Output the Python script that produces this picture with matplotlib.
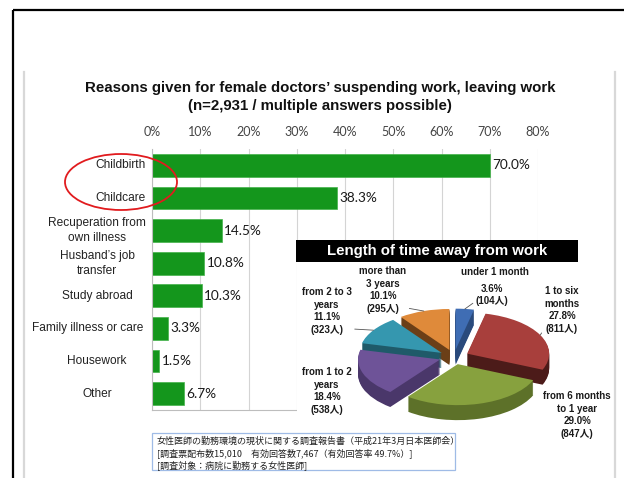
import matplotlib
matplotlib.use('Agg')
import matplotlib.pyplot as plt
import matplotlib.transforms as mtransforms
from matplotlib.patches import Ellipse, Rectangle
from matplotlib.lines import Line2D
import numpy as np

# ---------------- data ----------------
categories = ['Childbirth', 'Childcare', 'Recuperation from\nown illness',
              'Husband\u2019s job\ntransfer', 'Study abroad',
              'Family illness or care', 'Housework', 'Other']
shares = [70.0, 38.3, 14.5, 10.8, 10.3, 3.3, 1.5, 6.7]
xticks = [0, 10, 20, 30, 40, 50, 60, 70, 80]

pie_labels = ['under 1 month', '1 to six\nmonths', 'from 6 months\nto 1 year',
              'from 1 to 2\nyears', 'from 2 to 3\nyears', 'more than\n3 years']
pie_pct = [3.6, 27.8, 29.0, 18.4, 11.1, 10.1]
pie_counts = [104, 811, 847, 538, 323, 295]

title1 = 'Reasons given for female doctors\u2019 suspending work, leaving work'
title2 = '(n=2,931 / multiple answers possible)'
pie_title = 'Length of time away from work'
notes = ['女性医師の勤務環境の現状に関する調査報告書（平成21年3月日本医師会）',
         '[調査票配布数15,010　有効回答数7,467（有効回答率 49.7%）]',
         '[調査対象：病院に勤務する女性医師]']

# ---------------- figure ----------------
W, H = 624, 478
fig = plt.figure(figsize=(W / 100, H / 100), dpi=100)
fig.patch.set_facecolor('white')

def fx(x):
    return x / W

def fy(y):
    return 1 - y / H

SANS = ['Liberation Sans', 'DejaVu Sans']
NUM = ['Lato', 'DejaVu Sans']
CJK = ['Liberation Sans', 'Noto Sans CJK JP', 'DejaVu Sans']

# frame decorations
fig.add_artist(Line2D([fx(13), 1], [fy(10), fy(10)], transform=fig.transFigure,
                      color='black', lw=1.6, solid_capstyle='butt'))
fig.add_artist(Line2D([fx(13), fx(13)], [fy(10), 0], transform=fig.transFigure,
                      color='black', lw=1.6, solid_capstyle='butt'))
for gx in (24, 615):
    fig.add_artist(Line2D([fx(gx), fx(gx)], [fy(72), 0], transform=fig.transFigure,
                          color='#d8d8d8', lw=1.6))

# titles
fig.text(fx(320), fy(88), title1, ha='center', va='center', fontsize=10.8,
         fontweight='bold', family=SANS, color='#111')
fig.text(fx(320), fy(106), title2, ha='center', va='center', fontsize=10.8,
         fontweight='bold', family=SANS, color='#111')

# ---------------- bar chart ----------------
ax = fig.add_axes([fx(152), fy(410), (538 - 152) / W, (410 - 149) / H])
yy = np.arange(len(categories))
ax.barh(yy, shares, height=0.7, color='#14961c', edgecolor='#44b24a', lw=0.5, zorder=2)
ax.set_xlim(0, 80)
ax.set_ylim(len(categories) - 0.5, -0.5)
ax.xaxis.tick_top()
ax.set_xticks(xticks)
ax.set_xticklabels([f'{t}%' for t in xticks], fontsize=9, family=NUM, color='#444')
ax.tick_params(axis='x', length=0, pad=8)
ax.set_yticks([])
ax.grid(axis='x', color='#d4d4d4', lw=0.8, zorder=0)
ax.set_axisbelow(True)
for s in ('top', 'right'):
    ax.spines[s].set_visible(False)
for s in ('left', 'bottom'):
    ax.spines[s].set_color('#bdbdbd')
    ax.spines[s].set_linewidth(0.8)

for i, v in enumerate(shares):
    ax.text(v + 0.5, i, f'{v:.1f}%', va='center', ha='left', fontsize=9.8,
            family=NUM, color='#1a1a1a', zorder=3)

blend = mtransforms.blended_transform_factory(fig.transFigure, ax.transData)
for i, lab in enumerate(categories):
    if i < 2:
        xp, ha = 146, 'right'
    elif lab.startswith('Family'):
        xp, ha = 88, 'center'
    else:
        xp, ha = 97, 'center'
    ax.text(fx(xp), i, lab, transform=blend, ha=ha, va='center', fontsize=8.6,
            family=SANS, color='#222', multialignment='center', linespacing=1.3)

# red highlight ellipse
fig.add_artist(Ellipse((fx(121), fy(182)), 112 / W, 56 / H, transform=fig.transFigure,
                       fill=False, edgecolor='#e11b1e', lw=1.3))

# ---------------- 3D-looking pie ----------------
PL, PR, PT, PB = 297, 605, 240, 445
cx, cy, rx, ry, depth = 454, 357, 82, 41, 15
axp = fig.add_axes([fx(PL), fy(PB), (PR - PL) / W, (PB - PT) / H])
top_colors = ['#3f6db4', '#a83f3c', '#87a13e', '#6e5398', '#3597af', '#df8a3a']
side_colors = ['#2a4a7c', '#4c1b19', '#5d7129', '#4a376a', '#1f5a69', '#6b3f17']
explode = [0.18] * len(pie_pct)

layers = []
for k in range(depth, 0, -1):
    w, _ = axp.pie(pie_pct, explode=explode, startangle=90, counterclock=False,
                   colors=side_colors, center=(0, -k / ry), radius=1,
                   wedgeprops=dict(lw=0))
    layers.append(w)
tops, _ = axp.pie(pie_pct, explode=explode, startangle=90, counterclock=False,
                  colors=top_colors, center=(0, 0), radius=1,
                  wedgeprops=dict(lw=0))

mids = [np.deg2rad((w.theta1 + w.theta2) / 2) for w in tops]
order = np.argsort([-np.sin(m) for m in mids])  # back first
base = {}
for rank, idx in enumerate(order):
    base[idx] = 2 + rank
for w_list in layers:
    for i, w in enumerate(w_list):
        w.set_zorder(base[i])
for i, w in enumerate(tops):
    w.set_zorder(base[i] + 0.5)

axp.set_aspect('auto')
axp.set_frame_on(True)
axp.set_xlim(-(cx - PL) / rx, (PR - cx) / rx)
axp.set_ylim(-(PB - cy) / ry, (cy - PT) / ry)
axp.set_xticks([])
axp.set_yticks([])
for s in axp.spines.values():
    s.set_visible(False)
axp.set_facecolor('white')

def arc_point(i):
    w = tops[i]
    m = mids[i]
    return (w.center[0] + np.cos(m), w.center[1] + np.sin(m))

# pie title band
fig.add_artist(Rectangle((fx(296), fy(262)), (578 - 296) / W, 22 / H,
                         transform=fig.transFigure, facecolor='black',
                         edgecolor='none', zorder=5))
fig.text(fx(437), fy(251), pie_title, ha='center', va='center', fontsize=10.8,
         fontweight='bold', family=SANS, color='white', zorder=6)

lab_kw = dict(ha='center', va='center', fontsize=7, fontweight='bold',
              family=CJK, color='#1a1a1a', linespacing=1.3,
              textcoords='figure pixels', annotation_clip=False, zorder=20)
line_kw = dict(arrowstyle='-', color='#555555', lw=0.6, shrinkA=0, shrinkB=0)

# positions (center of text block, image pixels) and leader anchors
label_pos = [(492, 295), (562, 310), (577, 415), (327, 391), (327, 311), (383, 290)]
leader_rel = [(0.0, 0.22), (0.0, 0.1), None, None, (1.0, 0.12), (1.0, 0.12)]

for i in range(len(pie_pct)):
    if i == 0:
        txt = f'{pie_pct[i]:.1f}%\n({pie_counts[i]}人)'
        axp.annotate(pie_labels[i], xy=(0, 0), xytext=(495, H - 272),
                     **lab_kw)
    else:
        txt = f'{pie_labels[i]}\n{pie_pct[i]:.1f}%\n({pie_counts[i]}人)'
    px, py = label_pos[i]
    if leader_rel[i] is not None:
        props = dict(line_kw)
        props['relpos'] = leader_rel[i]
        axp.annotate(txt, xy=arc_point(i), xytext=(px, H - py),
                     arrowprops=props, **lab_kw)
    else:
        axp.annotate(txt, xy=(0, 0), xytext=(px, H - py), **lab_kw)

# ---------------- footnote ----------------
fig.add_artist(Rectangle((fx(152), fy(470)), (455 - 152) / W, 37 / H,
                         transform=fig.transFigure, facecolor='white',
                         edgecolor='#9fbbe6', lw=0.9, zorder=5))
for j, line in enumerate(notes):
    fig.text(fx(157), fy(441 + 12 * j), line, ha='left', va='center',
             fontsize=6.5, family=['Noto Sans CJK JP', 'DejaVu Sans'],
             color='#222', zorder=6)

fig.savefig('out.png', dpi=100, facecolor='white')
